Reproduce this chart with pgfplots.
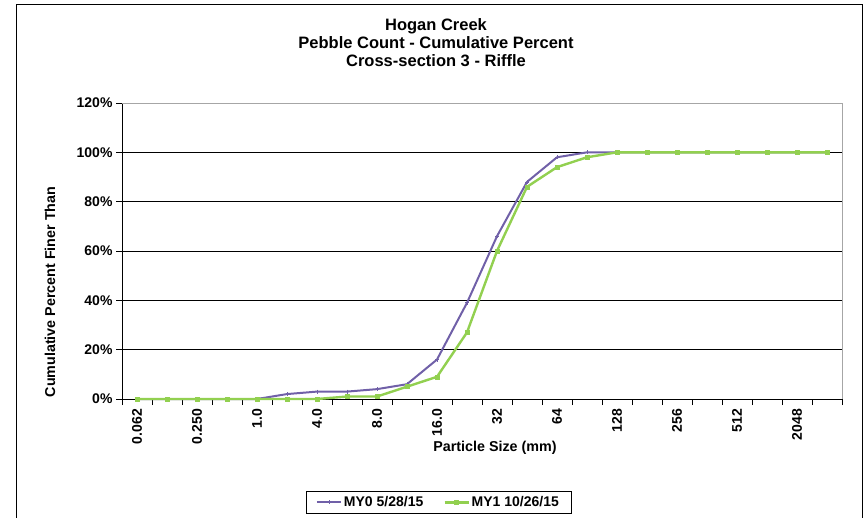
\documentclass[border=0pt]{standalone}
\usepackage{pgfplots}
\pgfplotsset{compat=1.18}
\usepackage{fontspec}
\setmainfont{Liberation Sans}

\definecolor{myzero}{RGB}{112,96,168}
\definecolor{myone}{RGB}{146,208,80}

\begin{document}
\begin{tikzpicture}[x=1pt,y=1pt]
\useasboundingbox (0,0) rectangle (865,-518);
% chart frame
\draw[black, line width=1pt] (16,-518) -- (16,-5) -- (862.5,-5) -- (862.5,-518);

% title
\node[font=\bfseries\fontsize{16.5}{18}\selectfont, anchor=base] at (436,-31) {Hogan Creek};
\node[font=\bfseries\fontsize{16.5}{18}\selectfont, anchor=base] at (436,-49) {Pebble Count - Cumulative Percent};
\node[font=\bfseries\fontsize{16.5}{18}\selectfont, anchor=base] at (436,-67) {Cross-section 3 - Riffle};

% axis titles
\node[font=\bfseries\fontsize{14.3}{16}\selectfont, rotate=90] at (50,-292) {Cumulative Percent Finer Than};
\node[font=\bfseries\fontsize{14.3}{16}\selectfont] at (495,-448) {Particle Size (mm)};

\begin{axis}[
    at={(122pt,-399pt)}, anchor=south west,
    scale only axis, width=720pt, height=296pt,
    xmin=-0.5, xmax=23.5, ymin=0, ymax=120,
    clip=false,
    axis x line*=bottom, axis y line*=left,
    axis line style={-, black, line width=0.8pt},
    tick align=outside,
    ytick={0,20,...,120},
    yticklabels={0\%,20\%,40\%,60\%,80\%,100\%,120\%},
    xtick={0,2,...,22},
    xticklabels={0.062,0.250,1.0,4.0,8.0,16.0,32,64,128,256,512,2048},
    minor xtick={-0.5,0.5,...,23.5},
    major tick length=6pt, minor tick length=6pt,
    every major x tick/.append style={draw=none},
    every tick/.append style={black, line width=0.8pt},
    ymajorgrids,
    grid style={black, line width=0.7pt},
    tick label style={font=\bfseries\fontsize{14}{16}\selectfont},
    x tick label style={rotate=90, anchor=east, inner sep=1pt},
    xticklabel shift=3pt,
    legend columns=2,
    legend style={at={(0.4395,-0.349)}, anchor=center, draw=black, line width=0.7pt,
        font=\bfseries\fontsize{14}{16}\selectfont, inner xsep=10pt, inner ysep=3pt,
        /tikz/every even column/.append style={column sep=18pt}},
    legend image code/.code={\draw[mark repeat=2, mark phase=2, #1] plot coordinates {(0pt,0pt) (12pt,0pt) (24pt,0pt)};},
]
% MY0 5/28/15
\addplot[color=myzero, line width=2pt, mark=+, mark size=2pt, mark options={line width=0.8pt}] coordinates {
(0,0) (1,0) (2,0) (3,0) (4,0) (5,2) (6,3) (7,3) (8,4) (9,6) (10,16) (11,39)
(12,66) (13,88) (14,98) (15,100) (16,100) (17,100) (18,100) (19,100) (20,100)
(21,100) (22,100) (23,100)
};
\addlegendentry{MY0 5/28/15}
% MY1 10/26/15
\addplot[color=myone, line width=2.4pt, mark=square*, mark size=2pt, mark options={line width=0.5pt}] coordinates {
(0,0) (1,0) (2,0) (3,0) (4,0) (5,0) (6,0) (7,1) (8,1) (9,5) (10,9) (11,27)
(12,60) (13,86) (14,94) (15,98) (16,100) (17,100) (18,100) (19,100) (20,100)
(21,100) (22,100) (23,100)
};
\addlegendentry{MY1 10/26/15}
% plot area border, top and right
\draw[gray!70, line width=0.8pt] (axis cs:-0.5,120) -- (axis cs:23.5,120) -- (axis cs:23.5,0);
\end{axis}
\end{tikzpicture}
\end{document}
